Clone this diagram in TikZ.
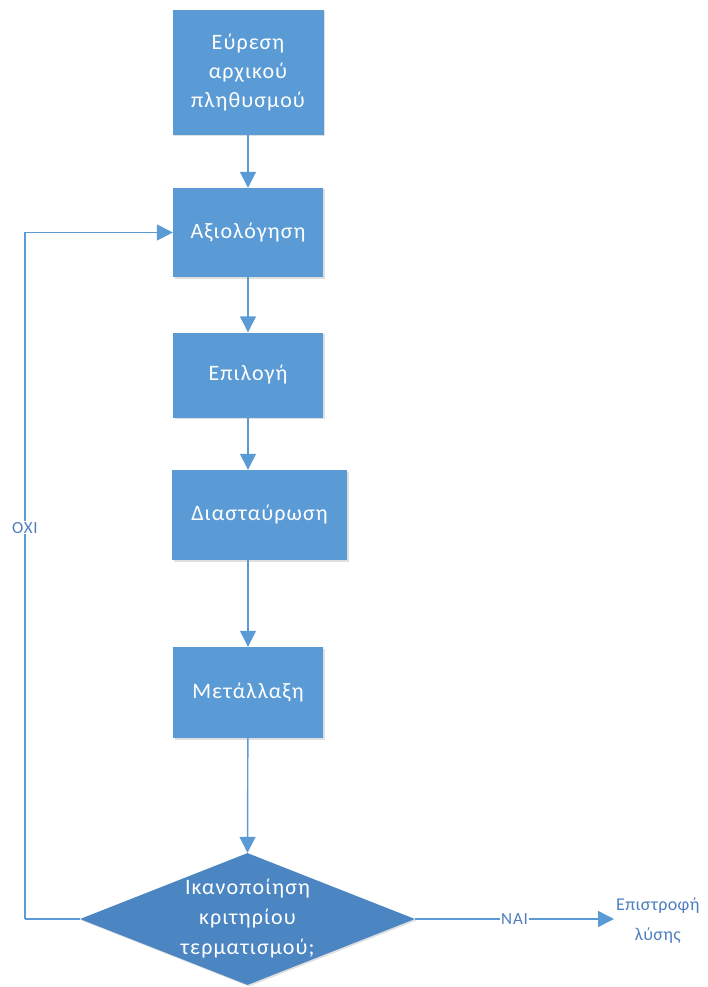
\documentclass[tikz,border=0pt]{standalone}
\usepackage{fontspec}
\setmainfont{Carlito}[LetterSpace=5]
\newfontfamily\tightfont{Carlito}[LetterSpace=2]
\usetikzlibrary{shapes.geometric,arrows.meta,shadows}
\definecolor{boxblue}{HTML}{5B9BD5}
\definecolor{decblue}{HTML}{4C86C2}
\definecolor{lineblue}{HTML}{5B9BD5}
\definecolor{lblblue}{HTML}{4F7FBF}
\begin{document}
\begin{tikzpicture}[x=1pt,y=-1pt,
  stepbox/.style={rectangle, fill=boxblue, text=white, align=center,
    font=\fontsize{22}{29}\selectfont, inner sep=0pt,
    drop shadow={shadow xshift=1.5pt, shadow yshift=-1.5pt, opacity=0.25}},
  decbox/.style={diamond, fill=decblue, inner sep=0pt,
    drop shadow={shadow xshift=1.5pt, shadow yshift=-1.5pt, opacity=0.25}},
  flow/.style={draw=lineblue, line width=1.4pt,
    -{Triangle[length=16pt,width=16pt]}},
  plain/.style={draw=lineblue, line width=1.4pt},
  lbl/.style={fill=white, inner sep=1pt, font=\fontsize{17}{20}\selectfont}]
\useasboundingbox (0,0) rectangle (707,987);

\node[stepbox, minimum width=151pt, minimum height=125pt] (b1) at (248,72.5)
  {Εύρεση\\αρχικού\\πληθυσμού};
\node[stepbox, minimum width=150pt, minimum height=89pt] (b2) at (248,232.5) {Αξιολόγηση};
\node[stepbox, minimum width=150pt, minimum height=85pt] (b3) at (248,375) {Επιλογή};
\node[stepbox, minimum width=175pt, minimum height=90pt] (b4) at (259.5,515) {Διασταύρωση};
\node[stepbox, minimum width=150pt, minimum height=91pt] (b5) at (248,692.5) {Μετάλλαξη};
\node[decbox, minimum width=335pt, minimum height=132pt] (dec) at (247.5,919) {};
\node[text=white, align=center, font=\fontsize{22}{30}\selectfont] (dectext) at (dec)
  {Ικανοποίηση\\κριτηρίου\\τερματισμού;};
\node[anchor=west, text=lblblue, align=center, inner sep=2pt,
  font=\tightfont\fontsize{18}{30}\selectfont] (ret) at (614,921) {Επιστροφή\\λύσης};

\coordinate (lb) at (25,919);
\coordinate (lt) at (25,232.5);

\draw[flow] (b1) -- (b2);
\draw[flow] (b2) -- (b3);
\draw[flow] (b3.south) -- (b3.south |- b4.north);
\draw[flow] (b5.north |- b4.south) -- (b5.north);
\draw[flow] (b5) -- (dec.north);
\draw[flow] (dec.east) -- node[lbl, text=lblblue] {NAI} (ret.west |- dec.east);
\draw[plain] (dec.west) -- (lb);
\draw[flow] (lb) -- node[lbl, pos=0.57, text=lblblue] {OXI} (lt) -- (b2.west);
\end{tikzpicture}
\end{document}
